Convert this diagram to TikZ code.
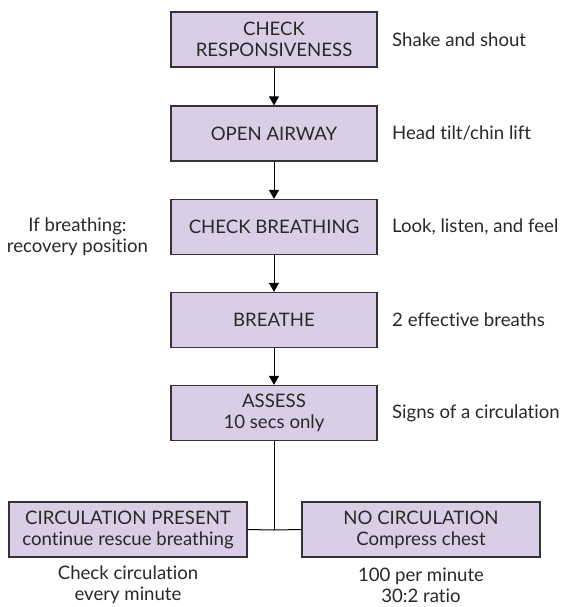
\documentclass[tikz,border=0pt]{standalone}
\usepackage{fontspec}
\setmainfont{Lato}[Ligatures={NoCommon}]
\usetikzlibrary{arrows.meta}
\definecolor{boxfill}{RGB}{218,206,230}
\definecolor{boxline}{RGB}{55,50,55}
\definecolor{txt}{RGB}{40,40,40}
\begin{document}
\begin{tikzpicture}[x=1pt,y=-1pt,
  font=\fontsize{18.6}{21}\selectfont, text=txt,
  stepbox/.style={draw=boxline, fill=boxfill, line width=1.3pt, minimum width=206pt, minimum height=55pt, align=center, inner sep=0pt},
  wide/.style={stepbox, minimum width=238pt},
  note/.style={align=center, inner sep=0pt},
  side/.style={anchor=west, inner sep=0pt},
  arr/.style={draw=black, line width=1pt, -{Triangle[width=10pt,length=9pt]}},
  link/.style={draw=black, line width=1pt}]
\useasboundingbox (0,0) rectangle (561,607);
\node[stepbox] (b1) at (274,39.5) {CHECK\\RESPONSIVENESS};
\node[stepbox] (b2) at (274,133.5) {OPEN AIRWAY};
\node[stepbox] (b3) at (274,227) {CHECK BREATHING};
\node[stepbox] (b4) at (274,320) {BREATHE};
\node[stepbox] (b5) at (274,413) {ASSESS\\10 secs only};
\node[wide] (cp) at (128,529.5) {CIRCULATION PRESENT\\continue rescue breathing};
\node[wide] (nc) at (421,529.5) {NO CIRCULATION\\Compress chest};
\coordinate (j) at (274,530);
\node[side] (s1) at (392,39.5) {Shake and shout};
\node[side] (s2) at (392,133.5) {Head tilt/chin lift};
\node[side] (s3) at (392,227) {Look, listen, and feel};
\node[side] (s4) at (392,320) {2 effective breaths};
\node[side] (s5) at (392,413) {Signs of a circulation};
\node[note] (lt) at (77.5,237) {If breathing:\\recovery position};
\node[note] (bl) at (128,585) {Check circulation\\every minute};
\node[note] (br) at (421,585) {100 per minute\\30:2 ratio};
\draw[arr] (b1) -- (b2);
\draw[arr] (b2) -- (b3);
\draw[arr] (b3) -- (b4);
\draw[arr] (b4) -- (b5);
\draw[link] (b5.south) -- (j);
\draw[link] (j) -- (cp.east);
\draw[link] (j) -- (nc.west);
\end{tikzpicture}
\end{document}
